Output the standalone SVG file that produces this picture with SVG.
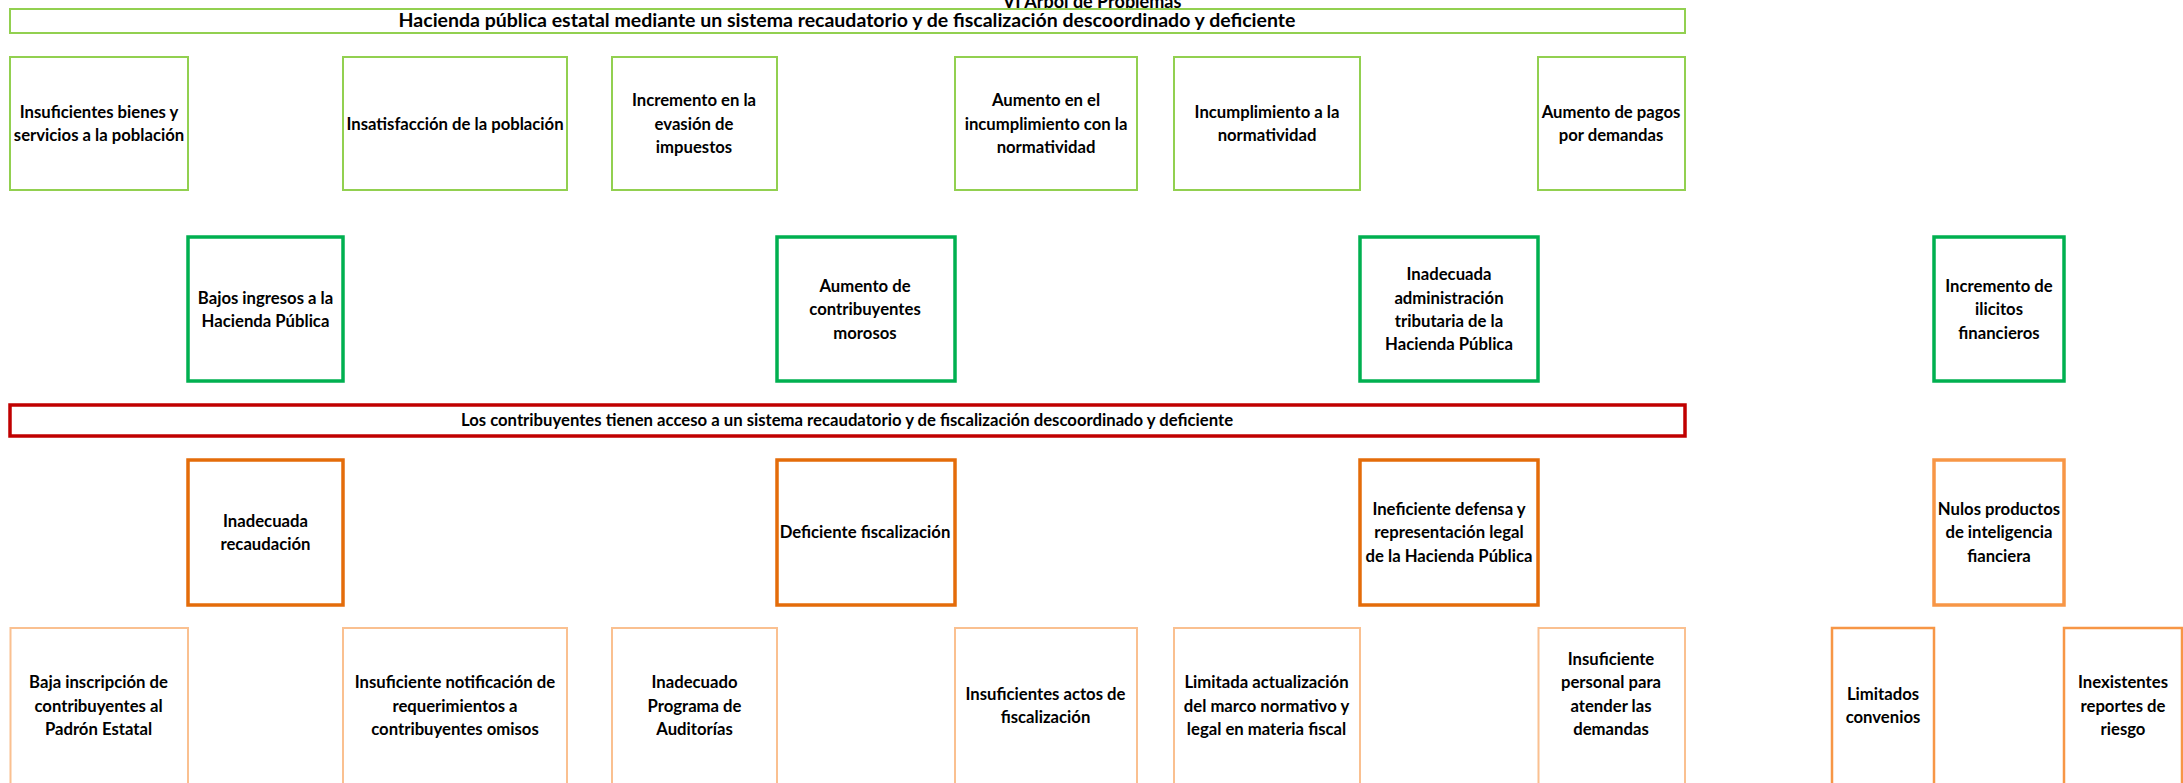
<svg xmlns="http://www.w3.org/2000/svg" width="2183" height="783" viewBox="0 0 2183 783">
<style>
.t{font-family:Lato,"Liberation Sans",sans-serif;font-weight:bold;font-size:16.7px;fill:#000;text-anchor:middle}
.big{font-size:19.5px}
.ttl{font-family:Lato,"Liberation Sans",sans-serif;font-weight:bold;font-size:18px;fill:#000;text-anchor:middle}
.lg{fill:#fff;stroke:#92D050;stroke-width:2}
.dg{fill:#fff;stroke:#00B050;stroke-width:3.5}
.rd{fill:#fff;stroke:#C00000;stroke-width:3.5}
.or{fill:#fff;stroke:#E46C0A;stroke-width:3.5}
.lo{fill:#fff;stroke:#F79646;stroke-width:3.5}
.po{fill:#fff;stroke:#FAC090;stroke-width:2}
.mo{fill:#fff;stroke:#F79646;stroke-width:2.5}
</style>
<rect width="2183" height="783" fill="#fff"/>
<g id="connectors"></g>
<text class="ttl" x="1092" y="7.5">VI Árbol de Problemas</text>
<g id="top"><rect class="lg" x="10" y="9" width="1675" height="24"/><text class="t big" x="847" y="26.5">Hacienda pública estatal mediante un sistema recaudatorio y de fiscalización descoordinado y deficiente</text></g>

<g id="e1"><rect class="lg" x="10" y="57" width="178" height="133"/><text class="t" x="99" y="118">Insuficientes bienes y</text><text class="t" x="99" y="141.4">servicios a la población</text></g>
<g id="e2"><rect class="lg" x="343" y="57" width="224" height="133"/><text class="t" x="455" y="129.7">Insatisfacción de la población</text></g>
<g id="e3"><rect class="lg" x="612" y="57" width="165" height="133"/><text class="t" x="694" y="106.4">Incremento en la</text><text class="t" x="694" y="129.7">evasión de</text><text class="t" x="694" y="153">impuestos</text></g>
<g id="e4"><rect class="lg" x="955" y="57" width="182" height="133"/><text class="t" x="1046" y="106.4">Aumento en el</text><text class="t" x="1046" y="129.7">incumplimiento con la</text><text class="t" x="1046" y="153">normatividad</text></g>
<g id="e5"><rect class="lg" x="1174" y="57" width="186" height="133"/><text class="t" x="1267" y="118">Incumplimiento a la</text><text class="t" x="1267" y="141.4">normatividad</text></g>
<g id="e6"><rect class="lg" x="1538" y="57" width="147" height="133"/><text class="t" x="1611" y="118">Aumento de pagos</text><text class="t" x="1611" y="141.4">por demandas</text></g>

<g id="d1"><rect class="dg" x="188" y="237" width="155" height="144"/><text class="t" x="265.5" y="303.6">Bajos ingresos a la</text><text class="t" x="265.5" y="326.9">Hacienda Pública</text></g>
<g id="d2"><rect class="dg" x="777" y="237" width="178" height="144"/><text class="t" x="865" y="291.9">Aumento de</text><text class="t" x="865" y="315.2">contribuyentes</text><text class="t" x="865" y="338.5">morosos</text></g>
<g id="d3"><rect class="dg" x="1360" y="237" width="178" height="144"/><text class="t" x="1449" y="280.2">Inadecuada</text><text class="t" x="1449" y="303.5">administración</text><text class="t" x="1449" y="326.9">tributaria de la</text><text class="t" x="1449" y="350.2">Hacienda Pública</text></g>
<g id="d4"><rect class="dg" x="1934" y="237" width="130" height="144"/><text class="t" x="1999" y="291.9">Incremento de</text><text class="t" x="1999" y="315.2">ilicitos</text><text class="t" x="1999" y="338.5">financieros</text></g>

<g id="problem"><rect class="rd" x="10" y="405" width="1675" height="31"/><text class="t" x="847" y="425.5">Los contribuyentes tienen acceso a un sistema recaudatorio y de fiscalización descoordinado y deficiente</text></g>

<g id="c1"><rect class="or" x="188" y="460" width="155" height="145"/><text class="t" x="265.5" y="526.6">Inadecuada</text><text class="t" x="265.5" y="549.9">recaudación</text></g>
<g id="c2"><rect class="or" x="777" y="460" width="178" height="145"/><text class="t" x="865" y="538.2">Deficiente fiscalización</text></g>
<g id="c3"><rect class="or" x="1360" y="460" width="178" height="145"/><text class="t" x="1449" y="514.9">Ineficiente defensa y</text><text class="t" x="1449" y="538.2">representación legal</text><text class="t" x="1449" y="561.5">de la Hacienda Pública</text></g>
<g id="c4"><rect class="lo" x="1934" y="460" width="130" height="145"/><text class="t" x="1999" y="514.9">Nulos productos</text><text class="t" x="1999" y="538.2">de inteligencia</text><text class="t" x="1999" y="561.5">fianciera</text></g>

<g id="s1"><rect class="po" x="10.5" y="628" width="177.5" height="200"/><text class="t" x="98.5" y="688.2">Baja inscripción de</text><text class="t" x="98.5" y="711.5">contribuyentes al</text><text class="t" x="98.5" y="734.8">Padrón Estatal</text></g>
<g id="s2"><rect class="po" x="343" y="628" width="224" height="200"/><text class="t" x="455" y="688.2">Insuficiente notificación de</text><text class="t" x="455" y="711.5">requerimientos a</text><text class="t" x="455" y="734.8">contribuyentes omisos</text></g>
<g id="s3"><rect class="po" x="612" y="628" width="165" height="200"/><text class="t" x="694.5" y="688.2">Inadecuado</text><text class="t" x="694.5" y="711.5">Programa de</text><text class="t" x="694.5" y="734.8">Auditorías</text></g>
<g id="s4"><rect class="po" x="955" y="628" width="182" height="200"/><text class="t" x="1045.5" y="699.9">Insuficientes actos de</text><text class="t" x="1045.5" y="723.2">fiscalización</text></g>
<g id="s5"><rect class="po" x="1174" y="628" width="186" height="200"/><text class="t" x="1266.5" y="688.2">Limitada actualización</text><text class="t" x="1266.5" y="711.5">del marco normativo y</text><text class="t" x="1266.5" y="734.8">legal en materia fiscal</text></g>
<g id="s6"><rect class="po" x="1538.5" y="628" width="146.5" height="200"/><text class="t" x="1611" y="664.9">Insuficiente</text><text class="t" x="1611" y="688.2">personal para</text><text class="t" x="1611" y="711.5">atender las</text><text class="t" x="1611" y="734.8">demandas</text></g>
<g id="s7"><rect class="mo" x="1832" y="628" width="102" height="200"/><text class="t" x="1883" y="699.9">Limitados</text><text class="t" x="1883" y="723.2">convenios</text></g>
<g id="s8"><rect class="mo" x="2064" y="628" width="118" height="200"/><text class="t" x="2123" y="688.2">Inexistentes</text><text class="t" x="2123" y="711.5">reportes de</text><text class="t" x="2123" y="734.8">riesgo</text></g>
</svg>
